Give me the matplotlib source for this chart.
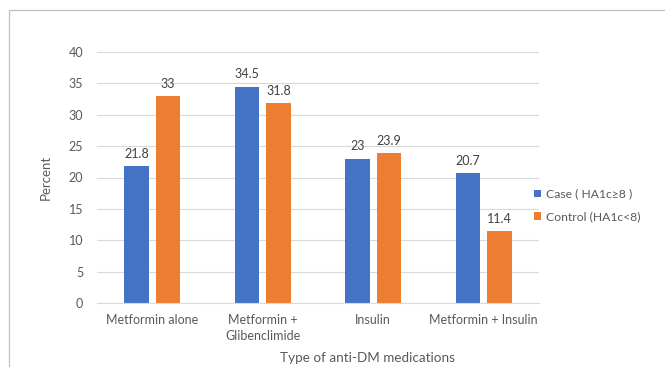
import matplotlib
matplotlib.use("Agg")
import matplotlib.pyplot as plt
import matplotlib.patches as mpatches
import numpy as np

categories = ["Metformin alone", "Metformin +\nGlibenclimide", "Insulin", "Metformin + Insulin"]
case_vals = [21.8, 34.5, 23, 20.7]
control_vals = [33, 31.8, 23.9, 11.4]
case_labels = ["21.8", "34.5", "23", "20.7"]
control_labels = ["33", "31.8", "23.9", "11.4"]
series_names = ["Case ( HA1c\u22658 )", "Control (HA1c<8)"]
yticks = [0, 5, 10, 15, 20, 25, 30, 35, 40]

plt.rcParams['font.family'] = ['Lato', 'DejaVu Sans']
txt = '#595959'
W, H = 665, 367

fig = plt.figure(figsize=(6.65, 3.67), dpi=100)
ax = fig.add_axes([97/W, 1-303/H, (539-97)/W, (303-52)/H])

x = np.arange(len(categories))
w = 0.222
off = 0.1425
b1 = ax.bar(x - off, case_vals, w, color='#4472C4', label=series_names[0])
b2 = ax.bar(x + off, control_vals, w, color='#ED7D31', label=series_names[1])
for rect, lab in zip(b1, case_labels):
    ax.text(rect.get_x() + rect.get_width()/2, rect.get_height() + 1.0, lab,
            ha='center', va='bottom', fontsize=9, color='#404040')
for rect, lab in zip(b2, control_labels):
    ax.text(rect.get_x() + rect.get_width()/2, rect.get_height() + 1.0, lab,
            ha='center', va='bottom', fontsize=9, color='#404040')

ax.set_xlim(-0.5, len(categories) - 0.5)
ax.set_ylim(0, 40)
ax.set_yticks(yticks)
ax.set_yticklabels([str(t) for t in yticks], fontsize=9, color=txt)
ax.set_xticks(x)
ax.set_xticklabels(categories, fontsize=9, color=txt, linespacing=1.35)
ax.tick_params(axis='x', length=0, pad=8)
ax.tick_params(axis='y', length=0, pad=10)
ax.yaxis.grid(True, color='#d9d9d9', linewidth=0.8)
ax.set_axisbelow(True)
for s in ['top', 'right', 'left']:
    ax.spines[s].set_visible(False)
ax.spines['bottom'].set_color('#d9d9d9')
ax.spines['bottom'].set_linewidth(0.8)

fig.text(46/W, 1-177/H, 'Percent', rotation=90, ha='center', va='center',
         fontsize=9.5, color=txt)
fig.text(368/W, 1-358/H, 'Type of anti-DM medications', ha='center', va='center',
         fontsize=9.7, color=txt)

leg = fig.legend(handles=[b1, b2], loc='center left', bbox_to_anchor=(534/W, 1-205.5/H),
                 frameon=False, fontsize=8.7, handlelength=0.55, handleheight=0.55,
                 handletextpad=0.45, labelspacing=0.95, borderaxespad=0, borderpad=0)
for t in leg.get_texts():
    t.set_color(txt)

rect = mpatches.Rectangle((9/W, -0.1), 1.0, 1.1 - 10/H, transform=fig.transFigure,
                          fill=False, edgecolor='#bfbfbf', linewidth=0.9)
fig.patches.append(rect)

fig.savefig('out.png', dpi=100)
